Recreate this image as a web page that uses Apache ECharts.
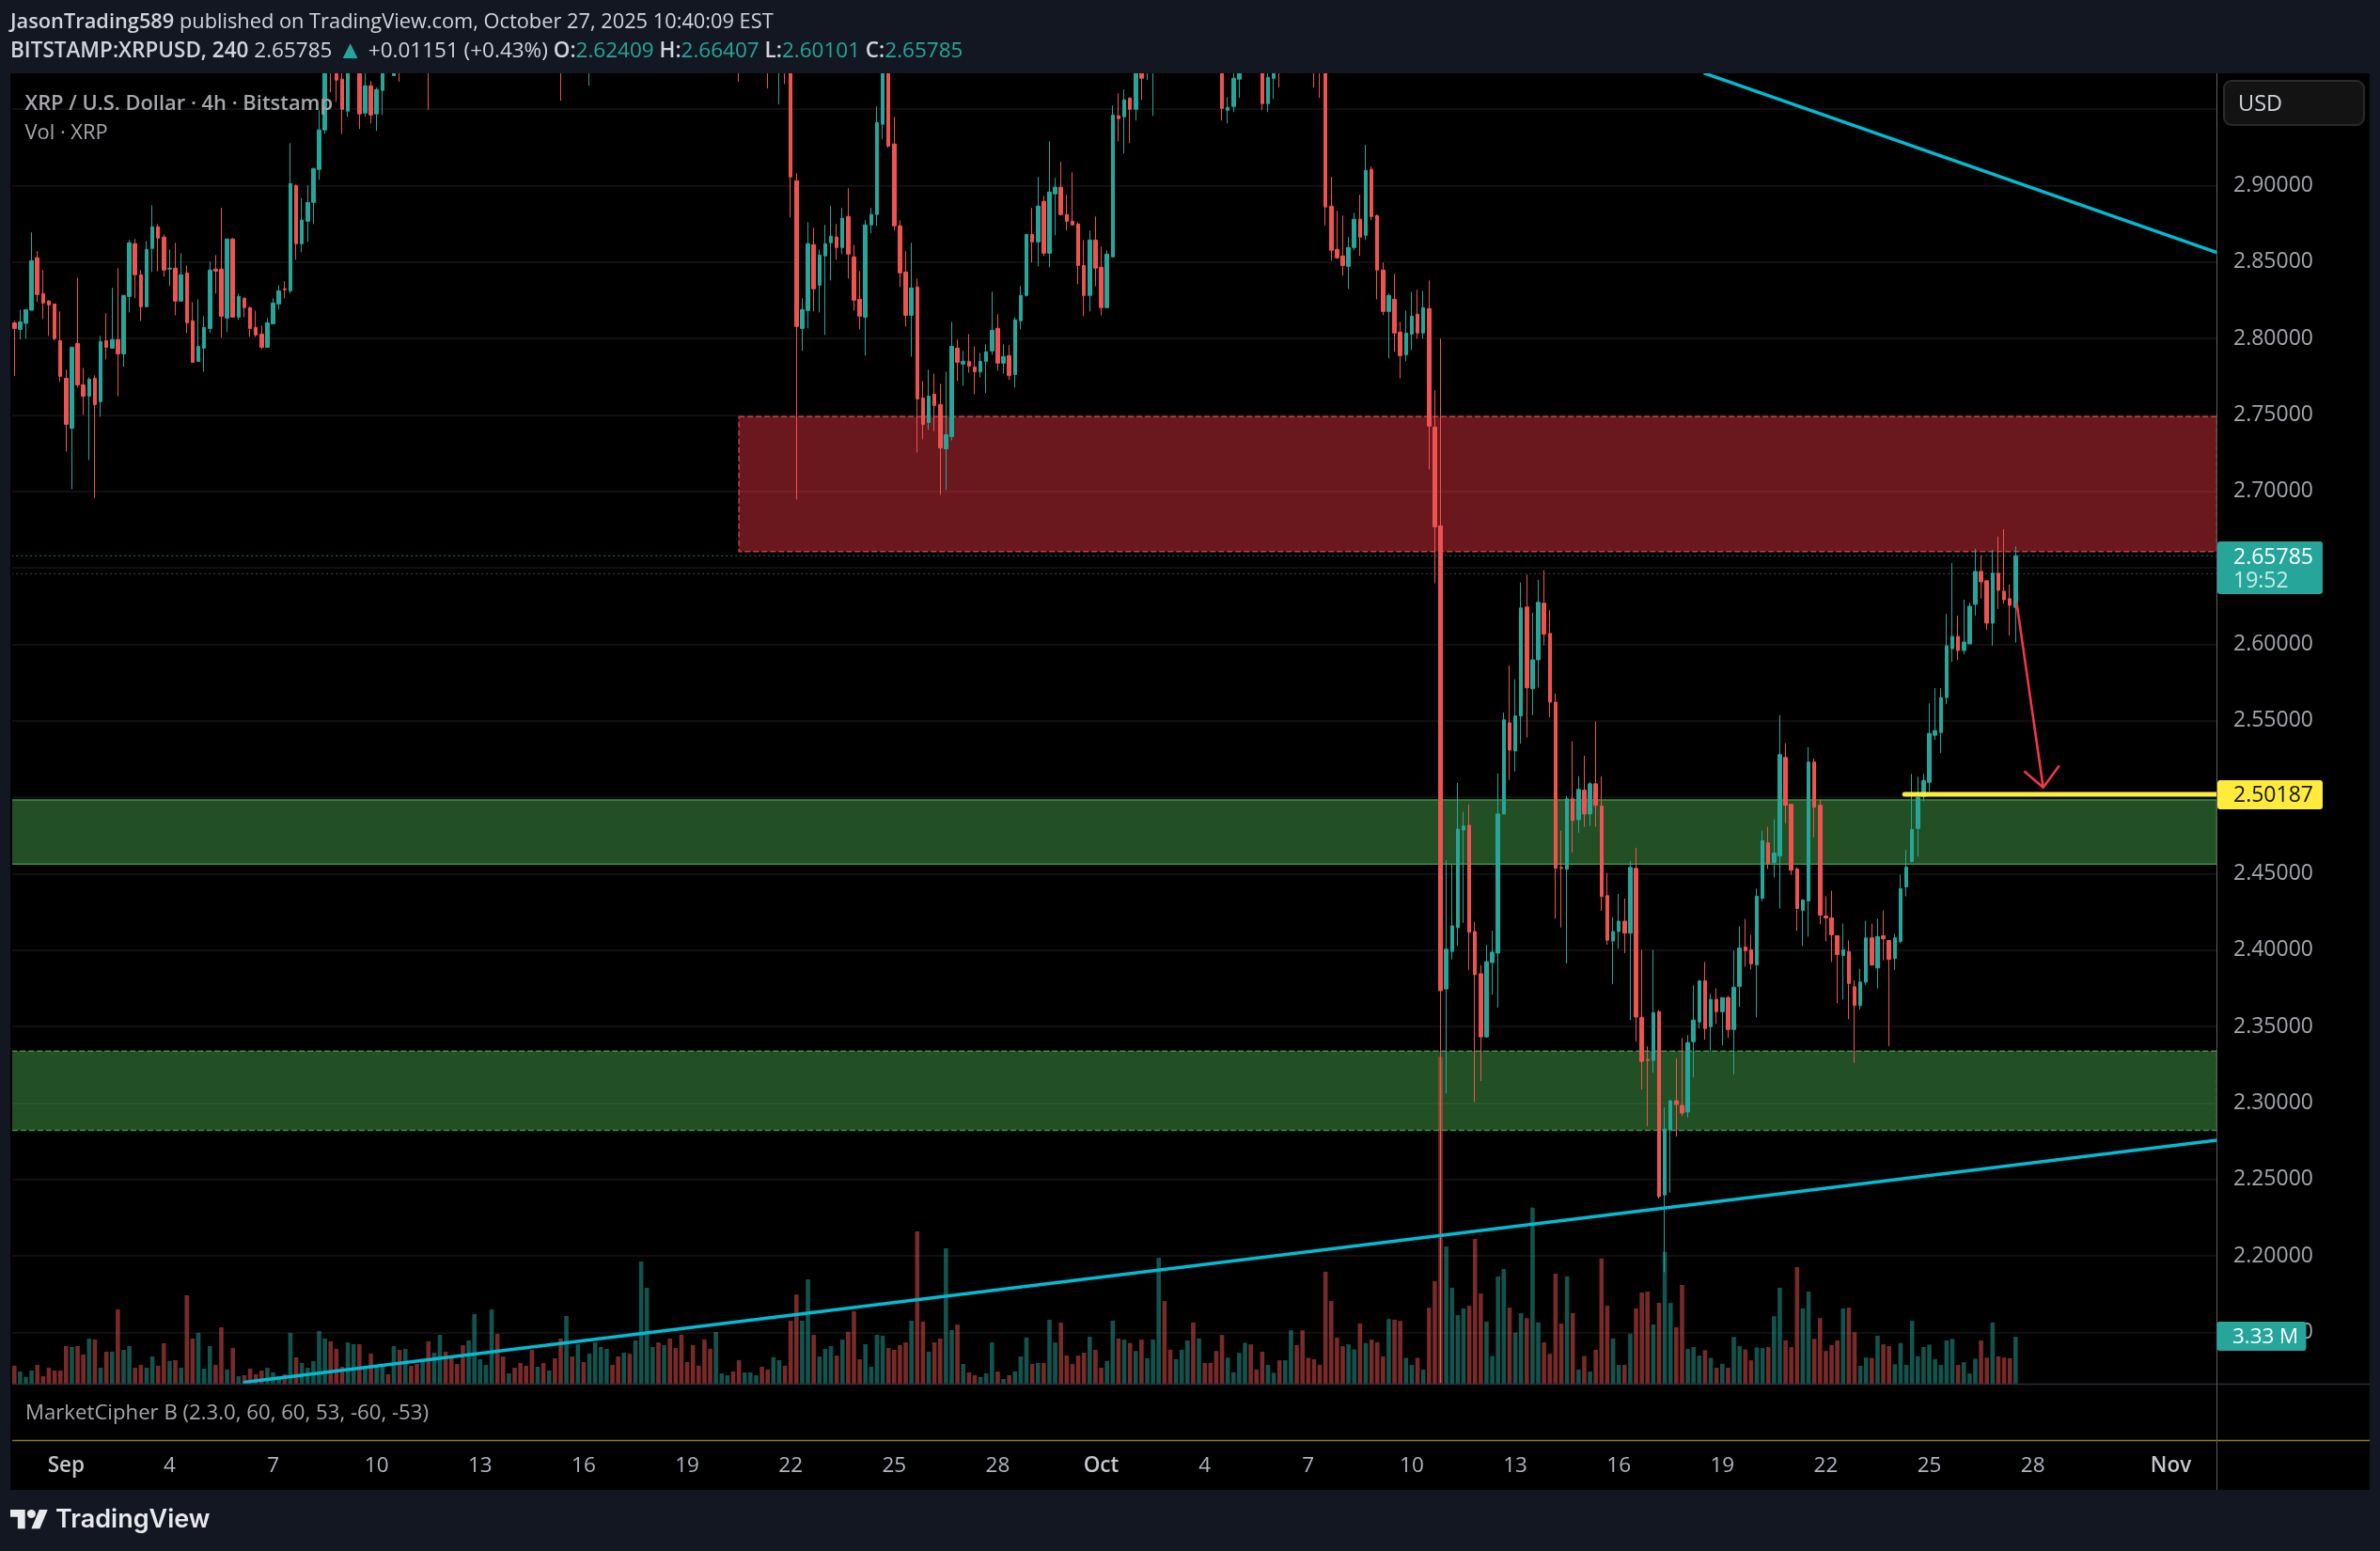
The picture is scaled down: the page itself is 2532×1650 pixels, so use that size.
<!DOCTYPE html>
<html><head><meta charset="utf-8">
<script src="https://cdn.jsdelivr.net/npm/echarts@6/dist/echarts.min.js"></script>
<style>html,body{margin:0;padding:0;background:#131722}#c{width:2532px;height:1650px}</style>
</head><body><div id="c"></div>
<script>
// Candles are [open, high, low, close]
const barsEarlySep = [
[2.8102,2.8113,2.7754,2.8065],[2.8059,2.8188,2.7994,2.8108],[2.8098,2.8188,2.7998,2.8188],[2.8184,2.8693,2.8184,2.8508],[2.8527,2.8570,2.8238,2.8287],
[2.8293,2.8447,2.8127,2.8231],[2.8244,2.8250,2.8016,2.8219],[2.8225,2.8225,2.7987,2.7998],[2.7985,2.8176,2.7715,2.7752],[2.7739,2.7795,2.7260,2.7438],
[2.7413,2.7942,2.7014,2.7942],[2.7967,2.8397,2.7678,2.7696],[2.7696,2.7807,2.7500,2.7622],[2.7622,2.7745,2.7204,2.7733],[2.7739,2.7758,2.6958,2.7567],
[2.7586,2.8016,2.7487,2.7979],[2.7985,2.8164,2.7862,2.7942],[2.7936,2.8330,2.7936,2.7992],[2.7992,2.8459,2.7622,2.7899],[2.7899,2.8281,2.7813,2.8281],
[2.8274,2.8643,2.8170,2.8625],[2.8619,2.8650,2.8262,2.8416],[2.8416,2.8447,2.8115,2.8207],[2.8207,2.8637,2.8207,2.8582],[2.8588,2.8871,2.8434,2.8730],
[2.8730,2.8748,2.8440,2.8656],[2.8662,2.8680,2.8404,2.8447],[2.8453,2.8582,2.8342,2.8459],[2.8459,2.8625,2.8151,2.8244],[2.8244,2.8557,2.8244,2.8416],
[2.8428,2.8477,2.8035,2.8102],[2.8115,2.8238,2.7844,2.7844],[2.7850,2.8256,2.7850,2.7948],[2.7936,2.8145,2.7782,2.8072],[2.8065,2.8502,2.8035,2.8447],
[2.8453,2.8545,2.8293,2.8440],[2.8453,2.8853,2.8004,2.8145],[2.8133,2.8650,2.8041,2.8650],[2.8650,2.8656,2.8139,2.8139],[2.8139,2.8293,2.8121,2.8274],
[2.8262,2.8268,2.8139,2.8201],[2.8201,2.8207,2.8010,2.8065],[2.8072,2.8182,2.8010,2.8022],[2.8028,2.8084,2.7930,2.7942],[2.7942,2.8133,2.7942,2.8102],
[2.8096,2.8262,2.8096,2.8231],[2.8225,2.8348,2.8188,2.8311],[2.8324,2.8373,2.8262,2.8318],[2.8311,2.9277,2.8293,2.9012],[2.9000,2.9006,2.8514,2.8619],
[2.8619,2.8920,2.8563,2.8773],[2.8766,2.9000,2.8631,2.8889],[2.8889,2.9111,2.8748,2.9111],[2.9105,2.9492,2.9037,2.9363],[2.9363,2.9950,2.9338,2.9850],
[2.9910,2.9990,2.9609,2.9790],[2.9830,2.9880,2.9548,2.9689],[2.9695,2.9840,2.9338,2.9498],[2.9486,2.9960,2.9449,2.9870],[2.9870,3.0020,2.9760,2.9930],
[2.9930,2.9990,2.9369,2.9468],[2.9474,2.9780,2.9449,2.9652],[2.9652,2.9683,2.9406,2.9461],[2.9468,2.9640,2.9357,2.9627],[2.9621,3.0010,2.9461,2.9930]
];
// Mostly above the visible price range: only a few lower wicks show at the top edge.
const barsAboveChartSep = [
[3.0060,3.0120,2.9860,2.9930],[2.9718,3.0110,2.9718,3.0010],[3.0010,3.0090,2.9678,2.9880],[2.9880,3.0170,2.9800,3.0120],[3.0240,3.0310,3.0050,3.0120],
[3.0120,3.0280,2.9980,3.0040],[2.9910,3.0150,2.9850,3.0040],[3.0040,3.0060,2.9494,2.9910],[2.9910,3.0340,2.9880,3.0290],[3.0290,3.0520,3.0210,3.0460],
[3.0460,3.0610,3.0370,3.0400],[3.0400,3.0480,3.0120,3.0190],[3.0190,3.0380,3.0090,3.0130],[3.0130,3.0220,2.9980,3.0050],[3.0050,3.0310,3.0000,3.0250],
[3.0250,3.0590,3.0180,3.0520],[3.0520,3.0640,3.0440,3.0580],[3.0580,3.0890,3.0470,3.0790],[3.0790,3.1060,3.0660,3.0960],[3.0960,3.1010,3.0620,3.0710],
[3.0710,3.0800,3.0420,3.0490],[3.0490,3.0720,3.0400,3.0650],[3.0650,3.0710,3.0330,3.0390],[3.0390,3.0440,3.0060,3.0130],[3.0130,3.0280,2.9950,3.0020],
[3.0020,3.0100,2.9840,2.9910],[2.9910,3.0190,2.9860,3.0110],[3.0110,3.0160,2.9880,2.9940],[2.9940,3.0250,2.9900,3.0170],[3.0170,3.0220,2.9890,2.9950],
[2.9950,3.0040,2.9555,2.9860],[2.9860,3.0290,2.9800,3.0210],[3.0210,3.0330,3.0050,3.0120],[3.0120,3.0360,3.0090,3.0290],[3.0290,3.0350,3.0020,3.0080],
[2.9980,3.0250,2.9653,3.0170],[3.0170,3.0490,3.0090,3.0410],[3.0410,3.0760,3.0360,3.0680],[3.0680,3.0890,3.0570,3.0810],[3.0810,3.0880,3.0380,3.0450],
[3.0450,3.0530,3.0180,3.0260],[3.0260,3.0480,3.0200,3.0420],[3.0420,3.0490,3.0150,3.0230],[3.0230,3.0540,3.0190,3.0470],[3.0470,3.0880,3.0410,3.0810],
[3.0810,3.1120,3.0760,3.1050],[3.1050,3.1230,3.0980,3.1160],[3.1160,3.1210,3.0840,3.0940],[3.0940,3.1180,3.0890,3.1090],[3.1090,3.1140,3.0790,3.0860],
[3.0860,3.0950,3.0640,3.0720],[3.0720,3.0850,3.0510,3.0590],[3.0590,3.0680,3.0430,3.0480],[3.0480,3.0620,3.0300,3.0370],[3.0370,3.0440,3.0180,3.0240],
[3.0240,3.0310,2.9990,3.0080],[3.0080,3.0170,2.9880,2.9940],[2.9940,3.0210,2.9900,3.0130],[3.0130,3.0340,3.0070,3.0260],[3.0260,3.0420,3.0190,3.0350],
[3.0350,3.0390,3.0030,3.0110],[3.0110,3.0180,2.9678,2.9850],[2.9850,3.0220,2.9780,3.0160],[3.0160,3.0340,3.0070,3.0270],[3.0270,3.0380,3.0190,3.0310],
[3.0310,3.0360,3.0010,3.0090],[3.0090,3.0130,2.9635,2.9820],[2.9820,3.0040,2.9770,2.9980],[2.9850,3.0140,2.9530,3.0060],[3.0060,3.0150,2.9664,2.9890]
];
const barsLateSep = [
[2.9920,2.9960,2.8791,2.9056],[2.9031,2.9080,2.6946,2.8078],[2.8065,2.8262,2.7918,2.8188],[2.8182,2.8760,2.8065,2.8619],[2.8613,2.8723,2.8176,2.8324],
[2.8348,2.8582,2.8170,2.8545],[2.8539,2.8742,2.8022,2.8619],[2.8625,2.8865,2.8379,2.8668],[2.8662,2.8748,2.8514,2.8594],[2.8594,2.8853,2.8551,2.8785],
[2.8797,2.8982,2.8391,2.8551],[2.8533,2.8613,2.8182,2.8250],[2.8256,2.8440,2.8059,2.8145],[2.8139,2.8773,2.7887,2.8742],[2.8742,2.8853,2.8687,2.8810],
[2.8810,2.9517,2.8736,2.9412],[2.9400,2.9960,2.9302,2.9880],[2.9880,2.9930,2.9246,2.9258],[2.9271,2.9449,2.8705,2.8736],[2.8736,2.8773,2.8336,2.8428],
[2.8434,2.8570,2.8078,2.8151],[2.8151,2.8625,2.7881,2.8330],[2.8336,2.8391,2.7254,2.7604],[2.7610,2.7721,2.7340,2.7438],[2.7450,2.7795,2.7401,2.7622],
[2.7635,2.7770,2.7395,2.7561],[2.7567,2.7703,2.6977,2.7284],[2.7278,2.7782,2.7008,2.7370],[2.7358,2.8108,2.7333,2.7948],[2.7936,2.7992,2.7721,2.7844],
[2.7832,2.7918,2.7690,2.7850],[2.7850,2.8028,2.7776,2.7819],[2.7813,2.7948,2.7635,2.7782],[2.7782,2.7905,2.7745,2.7850],[2.7850,2.7961,2.7641,2.7912],
[2.7918,2.8305,2.7893,2.8053],[2.8065,2.8158,2.7789,2.7838],[2.7838,2.7961,2.7770,2.7881],[2.7887,2.7955,2.7727,2.7758],[2.7764,2.8139,2.7678,2.8121],
[2.8115,2.8342,2.8059,2.8281],[2.8281,2.8680,2.8274,2.8680],[2.8680,2.8853,2.8496,2.8631],[2.8631,2.9056,2.8471,2.8865],[2.8896,2.8933,2.8539,2.8557],
[2.8557,2.9289,2.8465,2.8957],[2.8945,2.9049,2.8674,2.8988],[2.8988,2.9154,2.8803,2.8810],[2.8810,2.8939,2.8705,2.8766],[2.8766,2.9086,2.8742,2.8742],
[2.8748,2.8760,2.8354,2.8477],[2.8477,2.8643,2.8145,2.8281],[2.8281,2.8705,2.8176,2.8643],[2.8643,2.8797,2.8342,2.8459],[2.8465,2.8600,2.8151,2.8201],
[2.8201,2.8576,2.8201,2.8551],[2.8533,2.9523,2.8533,2.9461],[2.9455,2.9603,2.9289,2.9437],[2.9449,2.9627,2.9209,2.9560],[2.9572,2.9572,2.9277,2.9498],
[2.9498,2.9890,2.9425,2.9810],[2.9810,2.9880,2.9560,2.9701],[2.9760,3.0050,2.9689,2.9980],[2.9980,3.0230,2.9455,3.0160]
];
const barsEarlyOct = [
[3.0160,3.0340,3.0020,3.0270],[3.0270,3.0390,3.0090,3.0140],[3.0140,3.0210,2.9950,3.0010],[3.0010,3.0220,2.9970,3.0130],[3.0130,3.0380,3.0060,3.0290],
[3.0290,3.0470,3.0210,3.0360],[3.0360,3.0410,3.0090,3.0180],[3.0180,3.0330,3.0130,3.0260],[3.0260,3.0310,2.9960,3.0040],[3.0040,3.0120,2.9880,2.9950],
[2.9950,3.0010,2.9800,2.9880],[2.9880,2.9930,2.9425,2.9504],[2.9492,2.9578,2.9406,2.9511],[2.9517,2.9780,2.9480,2.9701],[2.9695,2.9850,2.9572,2.9790],
[2.9790,3.0010,2.9740,2.9950],[3.0110,3.0170,2.9880,2.9950],[2.9950,3.0100,2.9810,2.9870],[2.9980,3.0040,2.9492,2.9535],[2.9535,2.9790,2.9480,2.9707],
[2.9701,2.9930,2.9566,2.9870],[2.9870,2.9960,2.9640,2.9790],[2.9790,3.0060,2.9750,3.0010],[3.0010,3.0240,2.9950,3.0180],[3.0180,3.0310,3.0040,3.0090],
[3.0090,3.0210,2.9930,3.0010],[3.0010,3.0120,2.9900,2.9960],[2.9960,3.0020,2.9640,2.9860],[2.9860,2.9950,2.9572,2.9780],[2.9780,2.9840,2.8736,2.8859],
[2.8865,2.9056,2.8508,2.8576],[2.8582,2.8834,2.8520,2.8527],[2.8539,2.8803,2.8410,2.8477],[2.8471,2.8662,2.8324,2.8594],[2.8594,2.8822,2.8576,2.8779],
[2.8779,2.8939,2.8539,2.8662],[2.8674,2.9265,2.8643,2.9099],[2.9105,2.9123,2.8773,2.8797],[2.8803,2.8810,2.8256,2.8447],[2.8447,2.8496,2.8151,2.8176],
[2.8176,2.8293,2.7869,2.8281],[2.8256,2.8422,2.7912,2.8035],[2.8041,2.8108,2.7739,2.7887],[2.7893,2.8182,2.7850,2.8035],[2.8028,2.8305,2.7924,2.8145],
[2.8158,2.8318,2.7998,2.8035],[2.8035,2.8311,2.7998,2.8201],[2.8195,2.8379,2.7143,2.7426],[2.7420,2.7659,2.6398,2.6768],[2.6774,2.7998,2.1170,2.3734]
];
const barsAfterCrash = [
[2.3746,2.4588,2.3062,2.4006],[2.3991,2.4562,2.3938,2.4158],[2.4147,2.5093,2.4028,2.4791],[2.4785,2.4904,2.4178,2.4811],[2.4816,2.4952,2.3870,2.4116],
[2.4121,2.4184,2.3006,2.3839],[2.3845,2.3901,2.3144,2.3432],[2.3432,2.4034,2.3426,2.3924],[2.3918,2.4127,2.3709,2.3986],[2.3980,2.5155,2.3624,2.4890],
[2.4890,2.5554,2.4890,2.5506],[2.5486,2.5862,2.5113,2.5308],[2.5302,2.5771,2.5167,2.5531],[2.5531,2.6404,2.5350,2.6237],[2.6243,2.6455,2.5390,2.5715],
[2.5709,2.6206,2.5537,2.5898],[2.5898,2.6421,2.5715,2.6274],[2.6268,2.6483,2.5992,2.6065],[2.6071,2.6223,2.5523,2.5621],[2.5621,2.5678,2.4206,2.4534],
[2.4540,2.4780,2.4147,2.4534],[2.4528,2.5008,2.3912,2.4989],[2.4989,2.5364,2.4638,2.4847],[2.4853,2.5136,2.4768,2.5051],[2.5045,2.5271,2.4805,2.4890],
[2.4890,2.5099,2.4811,2.5087],[2.5087,2.5494,2.4805,2.4946],[2.4941,2.5136,2.4257,2.4350],[2.4356,2.4503,2.4034,2.4065],[2.4059,2.4215,2.3777,2.4121],
[2.4121,2.4367,2.4008,2.4189],[2.4189,2.4336,2.3980,2.4110],[2.4110,2.4582,2.3542,2.4540],[2.4534,2.4669,2.3401,2.3562],[2.3560,2.4002,2.3088,2.3272],
[2.3284,2.3370,2.2849,2.3278],[2.3278,2.4002,2.3198,2.3591],[2.3597,2.3609,2.2375,2.2388],[2.2398,2.2971,2.1893,2.2830],[2.2824,2.3020,2.2413,2.3014],
[2.3014,2.3290,2.2781,2.2990],[2.2984,2.3425,2.2916,2.2934],[2.2941,2.3444,2.2904,2.3395],[2.3401,2.3769,2.3168,2.3542],[2.3530,2.3799,2.3487,2.3799],
[2.3799,2.3922,2.3413,2.3487],[2.3499,2.3714,2.3339,2.3677],[2.3677,2.3750,2.3517,2.3597],[2.3597,2.3689,2.3376,2.3689],[2.3689,2.3701,2.3425,2.3480],
[2.3480,2.3996,2.3186,2.3757],[2.3763,2.4155,2.3628,2.4014],[2.4020,2.4204,2.3891,2.3996],[2.4002,2.4100,2.3873,2.3910],[2.3904,2.4401,2.3560,2.4352],
[2.4339,2.4781,2.4321,2.4714],[2.4701,2.4806,2.4530,2.4566],[2.4572,2.4855,2.4474,2.4634],[2.4615,2.5536,2.4272,2.5278],[2.5260,2.5352,2.4830,2.4947],
[2.4953,2.4953,2.4493,2.4523],[2.4530,2.4542,2.4125,2.4272],[2.4260,2.4333,2.4026,2.4327],[2.4321,2.5327,2.4088,2.5229],[2.5229,2.5253,2.4738,2.4934],
[2.4947,2.4983,2.4168,2.4229],[2.4223,2.4352,2.4057,2.4210],[2.4210,2.4388,2.3922,2.4100],[2.4094,2.4094,2.3652,2.3971],[2.3965,2.4174,2.3677,2.4002],
[2.3990,2.4063,2.3548,2.3781]
];
const barsLateOct = [
[2.3760,2.3803,2.3262,2.3637],[2.3637,2.3877,2.3612,2.3791],[2.3791,2.4191,2.3773,2.4080],[2.4080,2.4173,2.3902,2.3902],[2.3883,2.4204,2.3748,2.4087],
[2.4093,2.4259,2.3933,2.4074],[2.4062,2.4062,2.3372,2.3939],[2.3945,2.4105,2.3871,2.4080],[2.4056,2.4493,2.4044,2.4401],[2.4413,2.4653,2.4351,2.4542],
[2.4579,2.5152,2.4573,2.4789],[2.4795,2.5134,2.4610,2.4998],[2.5004,2.5152,2.4973,2.5109],[2.5097,2.5614,2.5035,2.5417],[2.5405,2.5713,2.5374,2.5435],
[2.5423,2.5713,2.5288,2.5651],[2.5651,2.6199,2.5608,2.5990],[2.5971,2.6532,2.5885,2.6051],[2.6051,2.6187,2.5897,2.5959],[2.5959,2.6291,2.5934,2.6014],
[2.6002,2.6273,2.6002,2.6248],[2.6261,2.6624,2.6187,2.6476],[2.6476,2.6581,2.6298,2.6408],[2.6415,2.6415,2.6094,2.6138],[2.6138,2.6618,2.5990,2.6464],
[2.6464,2.6704,2.6230,2.6353],[2.6347,2.6753,2.6267,2.6291],[2.6298,2.6390,2.6057,2.6254],[2.62409,2.66407,2.60101,2.65785]
];
// Volume, millions of XRP
const volumesSep = [1.27,.87,.47,.93,1.33,.53,1.13,.93,.93,2.67,2.6,2.67,2.07,3.2,3.13,1.13,2.27,2.27,5.27,2.4,
2.67,1.13,1.33,1.13,1.93,1.27,2.87,1.6,1.67,1.13,6.27,3.2,3.6,1.07,2.67,1.33,4.0,1.0,2.53,.53,
.6,1.07,.67,.93,1.13,.8,.53,.67,3.6,1.87,1.47,1.13,1.6,3.73,3.2,3.0,2.47,1.2,2.93,2.8,
2.8,1.13,2.13,1.33,1.27,.67,2.67,2.4,2.47,1.27,1.4,1.73,3.0,2.2,3.47,2.27,1.93,1.4,2.73,3.07,
4.93,1.73,1.33,5.27,3.53,1.93,.73,1.13,1.47,1.27,2.4,1.2,1.47,.93,1.8,3.2,4.8,1.93,2.8,1.53,
2.13,2.93,2.6,2.47,1.33,1.93,2.2,2.13,3.07,8.67,6.8,2.6,2.93,2.73,3.2,2.53,3.47,1.53,2.73,1.27,
3.13,2.47,3.67,.73,.6,.87,1.67,.8,.8,.6,1.2,1.0,1.87,1.67,1.27,4.47,6.33,4.47,7.4,3.47,
1.93,2.47,2.67,2.0,3.13,3.67,5.13,1.73,2.8,1.2,3.47,3.4,2.53,2.4,2.73,2.93,4.47,10.8,4.4,2.27,
2.93,3.2,9.6,3.8,4.2,1.4,.8,.6,.47,.73,2.93,.87,.33,.6,.87,1.93,3.27,1.4,1.47,1.47,
4.53,2.93,4.33,2.0,1.4,2.0,2.2,3.33,2.4,1.13,1.6,4.47,3.2,3.13];
const volumesOct = [2.88,2.32,3.13,1.8,3.13,8.93,5.86,2.41,1.74,2.41,3.07,4.34,3.21,1.47,1.47,2.32,3.46,1.85,.8,2.19,
2.9,2.79,1.0,2.27,1.33,.77,1.66,1.66,3.79,2.74,3.79,1.83,1.74,1.33,7.94,5.86,3.26,2.66,2.79,2.43,
4.26,2.88,3.13,2.93,1.94,4.59,4.54,4.45,1.83,1.33,1.83,1.0,5.39,7.28,23.18,9.74,6.8,4.87,5.34,5.53,
10.26,6.39,4.4,1.96,7.61,8.13,5.39,3.62,5.0,4.65,12.48,4.34,2.93,2.13,7.8,4.26,7.61,5.0,1.0,1.96,
.86,2.4,8.88,5.53,3.21,1.33,1.33,3.54,5.34,6.47,6.53,4.2,5.73,9.35,5.73,4.01,7.0,2.46,2.6,1.99,
2.38,1.83,1.13,1.41,1.13,3.32,2.66,2.43,1.66,2.57,2.52,2.6,4.79,6.8,3.07,2.6,8.27,5.34,6.53,3.18,
4.65,2.32,2.74,3.07,5.34,5.39,3.65,1.27,1.85,1.83,3.4,2.79,2.66,1.38,2.88,1.33,4.45,1.94,2.6,2.77,
1.74,1.33,3.07,3.18,1.33,1.52,.72,1.77,3.07,1.85,4.34,1.94,1.85,1.8,3.33];
// Axis
const tickBars = [9,27,45,63,81,99,117,135,153,171,189,207,225,243,261,279,297,315,333,351,375];
const tickTexts = ['Sep','4','7','10','13','16','19','22','25','28','Oct','4','7','10','13','16','19','22','25','28','Nov'];
const boldTicks = ['Sep','Oct','Nov'];
const gridPrices = [2.15,2.2,2.25,2.3,2.35,2.4,2.45,2.5,2.55,2.6,2.65,2.7,2.75,2.8,2.85,2.9,2.95];
const labelPrices = [2.15,2.2,2.25,2.3,2.35,2.4,2.45,2.55,2.6,2.7,2.75,2.8,2.85,2.9];
// Zones and drawings, [bar, price]
const redZone = [126,2.7488,383,2.6606];
const greenZoneUpper = [-1.2,2.4982,383,2.4562];
const greenZoneLower = [-1.2,2.3339,383,2.2821];
const risingTrend = [[40,2.1174],[383,2.2757]];
const fallingTrend = [[294,2.9732],[383,2.8561]];
const targetLine = [[328.7,2.50187],[383,2.50187]];
const arrowShaft = [[348.2,2.6268],[352.8,2.5063]];
const arrowHead = [[349.6,2.5166],[352.8,2.5063],[355.5,2.5201]];
const lastPriceLine = [[-0.5,2.65785],[383,2.65785]];
const prevCloseLine = [[-0.5,2.6461],[383,2.6461]];

const UP='#26a69a', DOWN='#ef5350';
const bars = [].concat(barsEarlySep,barsAboveChartSep,barsLateSep,barsEarlyOct,barsAfterCrash,barsLateOct);
const volumes = volumesSep.concat(volumesOct);
const SLOTS = 384;
const categories = new Array(SLOTS).fill('');
tickBars.forEach((b,k)=>{categories[b]=tickTexts[k];});
const candleData = bars.map(b=>[b[0],b[3],b[2],b[1]]);
const volumeData = volumes.map((v,k)=>({value:v,itemStyle:{color:(bars[k]&&bars[k][3]>=bars[k][0])?'rgba(38,166,154,.5)':'rgba(239,83,80,.5)'}}));

function zone(z,fill,border,dash){return {name:'zone',type:'line',xAxisIndex:1,yAxisIndex:0,data:[],silent:true,z:1,
  markArea:{silent:true,z:1,data:[[{xAxis:z[0],yAxis:z[1],itemStyle:{color:fill,borderColor:border,borderWidth:1.5,borderType:dash}},{xAxis:z[2],yAxis:z[3]}]]}};}
function draw(d,color,width,extra){return Object.assign({type:'line',xAxisIndex:1,yAxisIndex:0,data:d,showSymbol:false,symbol:'none',silent:true,z:6,
  lineStyle:{color:color,width:width,cap:'round',join:'round'},clip:true},extra||{});}
function dotted(d,color){return {type:'line',xAxisIndex:1,yAxisIndex:0,data:d,symbol:'none',silent:true,z:2,lineStyle:{color:color,width:1,type:[2,3]}};}

const FONT='"Open Sans"';
const HD='#d1d4dc';
function label(x,y,text,size,color,weight,extra){return {type:'text',z:70,style:Object.assign({x:x,y:y,text:text,fontFamily:FONT,fontSize:size,fill:color,fontWeight:weight||400,verticalAlign:'middle',align:'left'},extra||{})};}
function box(x,y,w,h,fill,r,stroke){return {type:'rect',z:60,shape:{x:x,y:y,width:w,height:h,r:r||0},style:{fill:fill,stroke:stroke||null,lineWidth:stroke?2:0}};}

const chart = echarts.init(document.getElementById('c'),null,{width:2532,height:1650,renderer:'canvas'});
chart.setOption({
 animation:false,backgroundColor:'#131722',
 grid:{left:12.2,top:78,width:2349.3,height:1394,containLabel:false},
 xAxis:[
  {type:'category',data:categories,boundaryGap:true,axisLine:{show:false},axisTick:{show:false},splitLine:{show:false},
   axisLabel:{show:true,interval:(i,v)=>v!=='',margin:87.5,verticalAlign:'middle',hideOverlap:false,color:'#b2b5be',fontFamily:FONT,fontSize:22.5,
     formatter:v=>boldTicks.includes(v)?'{b|'+v+'}':v,rich:{b:{fontWeight:600,color:'#c4c6cc',fontFamily:FONT,fontSize:22.5}}}},
  {type:'value',min:-0.5,max:383.5,show:false,splitLine:{show:false}}
 ],
 yAxis:[
  {type:'value',position:'right',min:2.11644,max:2.97333,scale:true,axisLine:{show:false},
   axisTick:{show:false,customValues:gridPrices},splitLine:{show:true,lineStyle:{color:'#161616',width:1.5}},
   axisLabel:{show:true,customValues:labelPrices,margin:14.5,padding:[3,0,0,0],color:'#a3a6ad',fontFamily:FONT,fontSize:23,formatter:v=>v.toFixed(5),hideOverlap:false,showMinLabel:true,showMaxLabel:true}},
  {type:'value',position:'right',min:0,max:92.93,show:false,splitLine:{show:false}}
 ],
 series:[
  zone(redZone,'rgba(242,54,69,.44)','#c9404b','dashed'),
  zone(greenZoneUpper,'rgba(76,175,80,.45)','#3f8f44','solid'),
  zone(greenZoneLower,'rgba(76,175,80,.45)','#3f8f44','dashed'),
  dotted(lastPriceLine,'rgba(38,166,154,.75)'),
  dotted(prevCloseLine,'#44464d'),
  {type:'bar',xAxisIndex:0,yAxisIndex:1,data:volumeData,barWidth:4.6,silent:true,z:3},
  {type:'candlestick',xAxisIndex:0,yAxisIndex:0,data:candleData,barWidth:4,clip:true,silent:true,z:4,
   itemStyle:{color:UP,color0:DOWN,borderColor:UP,borderColor0:DOWN,borderWidth:1}},
  draw(risingTrend,'#00bcd4',3.5),
  draw(fallingTrend,'#00bcd4',3.5),
  draw(targetLine,'#ffeb3b',5),
  draw(arrowShaft,'#f23645',2.6),
  draw(arrowHead,'#f23645',2.6)
 ],
 graphic:{elements:[
  {type:'rect',z:-10,shape:{x:11,y:78,width:2510,height:1507},style:{fill:'#000'}},
  {type:'rect',z:40,shape:{x:0,y:0,width:2532,height:78},style:{fill:'#131722'}},
  {type:'rect',z:40,shape:{x:0,y:0,width:11,height:1650},style:{fill:'#131722'}},
  {type:'rect',z:41,shape:{x:11,y:78,width:2,height:1507},style:{fill:'#000'}},
  {type:'rect',z:50,shape:{x:2358.6,y:78,width:4,height:1394},style:{fill:'#000'}},
  {type:'line',z:52,shape:{x1:13,y1:1472.5,x2:2521,y2:1472.5},style:{stroke:'#2a2e39',lineWidth:1.5}},
  {type:'line',z:52,shape:{x1:13,y1:1532.5,x2:2521,y2:1532.5},style:{stroke:'#8a7f0a',lineWidth:1.5}},
  {type:'line',z:52,shape:{x1:2358.5,y1:78,x2:2358.5,y2:1585},style:{stroke:'#5f5f5f',lineWidth:1}},
  box(2366,86,149,47,'#131313',8,'#2a2a2a'),
  label(2381,111,'USD',23.5,'#d1d4dc'),
  box(2359,576,112,56,'#26a69a',3),
  label(2376,593,'2.65785',23,'#ffffff'),
  label(2376,618,'19:52',23,'#c9ece8'),
  box(2359,830,112,31,'#ffeb3b',3),
  label(2376,846.5,'2.50187',23,'#131722'),
  box(2358.5,1406,95,31,'#26a69a',3),
  label(2375,1423,'3.33 M',22.4,'#ffffff'),
  label(26.5,110.5,'XRP / U.S. Dollar · 4h · Bitstamp',21.9,'#a5a7ad',600),
  label(26.5,141.5,'Vol · XRP',21.9,'#a5a7ad'),
  label(27,1503.5,'MarketCipher B (2.3.0, 60, 60, 53, -60, -53)',22.2,'#a5a7ad'),
  {type:'text',z:70,style:{x:11,y:23.5,fontFamily:FONT,fontSize:21.8,verticalAlign:'middle',fill:HD,
    text:'{b|JasonTrading589} published on TradingView.com, October 27, 2025 10:40:09 EST',
    rich:{b:{fontWeight:600,fill:HD,fontFamily:FONT,fontSize:21.8}}}},
  {type:'text',z:70,style:{x:11,y:54.5,fontFamily:FONT,fontSize:22.5,verticalAlign:'middle',fill:HD,
    text:'{b|BITSTAMP:XRPUSD, 240} 2.65785 {t|▲} +0.01151 (+0.43%) {b|O:}{v|2.62409} {b|H:}{v|2.66407} {b|L:}{v|2.60101} {b|C:}{v|2.65785}',
    rich:{b:{fontWeight:600,fill:HD,fontFamily:FONT,fontSize:22.5},v:{fill:'#26a69a',fontFamily:FONT,fontSize:22.5},t:{fill:'#26a69a',fontFamily:FONT,fontSize:27}}}},
  {type:'polygon',z:70,shape:{points:[[14,22],[7,22],[7,11],[0,11],[0,4],[14,4]].map(p=>[11+p[0]*1.12,1601.5+p[1]*1.12])},style:{fill:'#e8e9ec'}},
  {type:'polygon',z:70,shape:{points:[[28,22],[20,22],[27.5,4],[35.5,4]].map(p=>[11+p[0]*1.12,1601.5+p[1]*1.12])},style:{fill:'#e8e9ec'}},
  {type:'circle',z:70,shape:{cx:11+20*1.12,cy:1601.5+8*1.12,r:4.5},style:{fill:'#e8e9ec'}},
  label(59,1617,'TradingView',27,'#e8e9ec',600,{fontFamily:'Inter'})
 ]}
});
</script></body></html>
